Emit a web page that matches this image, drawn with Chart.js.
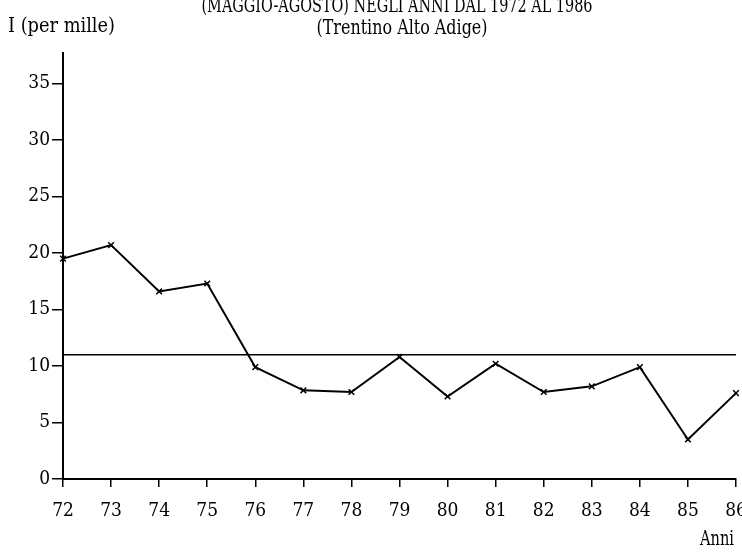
<!DOCTYPE html>
<html>
<head>
<meta charset="utf-8">
<script src="https://cdn.jsdelivr.net/npm/chart.js@4/dist/chart.umd.min.js"></script>
<style>
html,body{margin:0;padding:0;background:#fff;overflow:hidden;width:742px;height:553px;}
canvas{display:block;}
</style>
</head>
<body>
<canvas id="c" width="750" height="553"></canvas>
<script>
const years = ['72','73','74','75','76','77','78','79','80','81','82','83','84','85','86'];
const rates = [19.5, 20.7, 16.6, 17.3, 9.9, 7.85, 7.7, 10.8, 7.3, 10.2, 7.7, 8.2, 9.9, 3.5, 7.6];
const referenceValue = 11.0;
const yTickValues = [0, 5, 10, 15, 20, 25, 30, 35];
const titleLines = ['(MAGGIO-AGOSTO) NEGLI ANNI DAL 1972 AL 1986', '(Trentino Alto Adige)'];
const yAxisTitle = 'I (per mille)';
const xAxisTitle = 'Anni';

const FAMILY = "'DejaVu Serif',serif";
const STRETCH = 'condensed';

const textPlugin = {
  id: 'texts',
  afterDraw(chart) {
    const ctx = chart.ctx;
    ctx.save();
    ctx.fillStyle = '#000';
    ctx.textBaseline = 'alphabetic';
    ctx.font = STRETCH + ' 21px ' + FAMILY;
    ctx.textAlign = 'center';
    ctx.fillText(titleLines[0], 397, 12, 391);
    ctx.fillText(titleLines[1], 402, 34, 171);
    ctx.textAlign = 'left';
    ctx.fillText(yAxisTitle, 8, 32, 107);
    ctx.textAlign = 'right';
    ctx.fillText(xAxisTitle, 734, 545, 34);
    ctx.restore();
  }
};

new Chart(document.getElementById('c'), {
  type: 'line',
  data: {
    labels: years,
    datasets: [
      {
        data: rates,
        borderColor: '#000',
        borderWidth: 2,
        pointStyle: 'crossRot',
        pointRadius: 4,
        pointBorderWidth: 1.5,
        pointBorderColor: '#000',
        tension: 0,
        fill: false,
        clip: false
      },
      {
        data: years.map(() => referenceValue),
        borderColor: '#000',
        borderWidth: 1.6,
        pointRadius: 0,
        tension: 0,
        fill: false
      }
    ]
  },
  options: {
    responsive: false,
    animation: false,
    devicePixelRatio: 1,
    layout: { padding: { top: 53, right: 14, left: 0, bottom: 0 } },
    plugins: { legend: { display: false }, title: { display: false }, tooltip: { enabled: false } },
    scales: {
      x: {
        type: 'category',
        offset: false,
        afterFit(s) { s.height = 74; s.paddingLeft = 0; s.paddingRight = 0; },
        grid: { drawOnChartArea: false, color: '#000', lineWidth: 1.5, tickLength: 8 },
        border: { display: true, color: '#000', width: 2 },
        ticks: { color: '#000', font: { family: FAMILY, size: 19, weight: STRETCH }, padding: 13, maxRotation: 0, autoSkip: false }
      },
      y: {
        type: 'linear',
        min: 0,
        max: 37.7,
        afterFit(s) { s.width = 63; s.paddingTop = 0; s.paddingBottom = 0; },
        afterBuildTicks(s) { s.ticks = yTickValues.map(v => ({ value: v })); },
        grid: { drawOnChartArea: false, color: '#000', lineWidth: 1.5, tickLength: 11 },
        border: { display: true, color: '#000', width: 2 },
        ticks: { color: '#000', font: { family: FAMILY, size: 19, weight: STRETCH }, padding: 2, includeBounds: false }
      }
    }
  },
  plugins: [textPlugin]
});
</script>
</body>
</html>
